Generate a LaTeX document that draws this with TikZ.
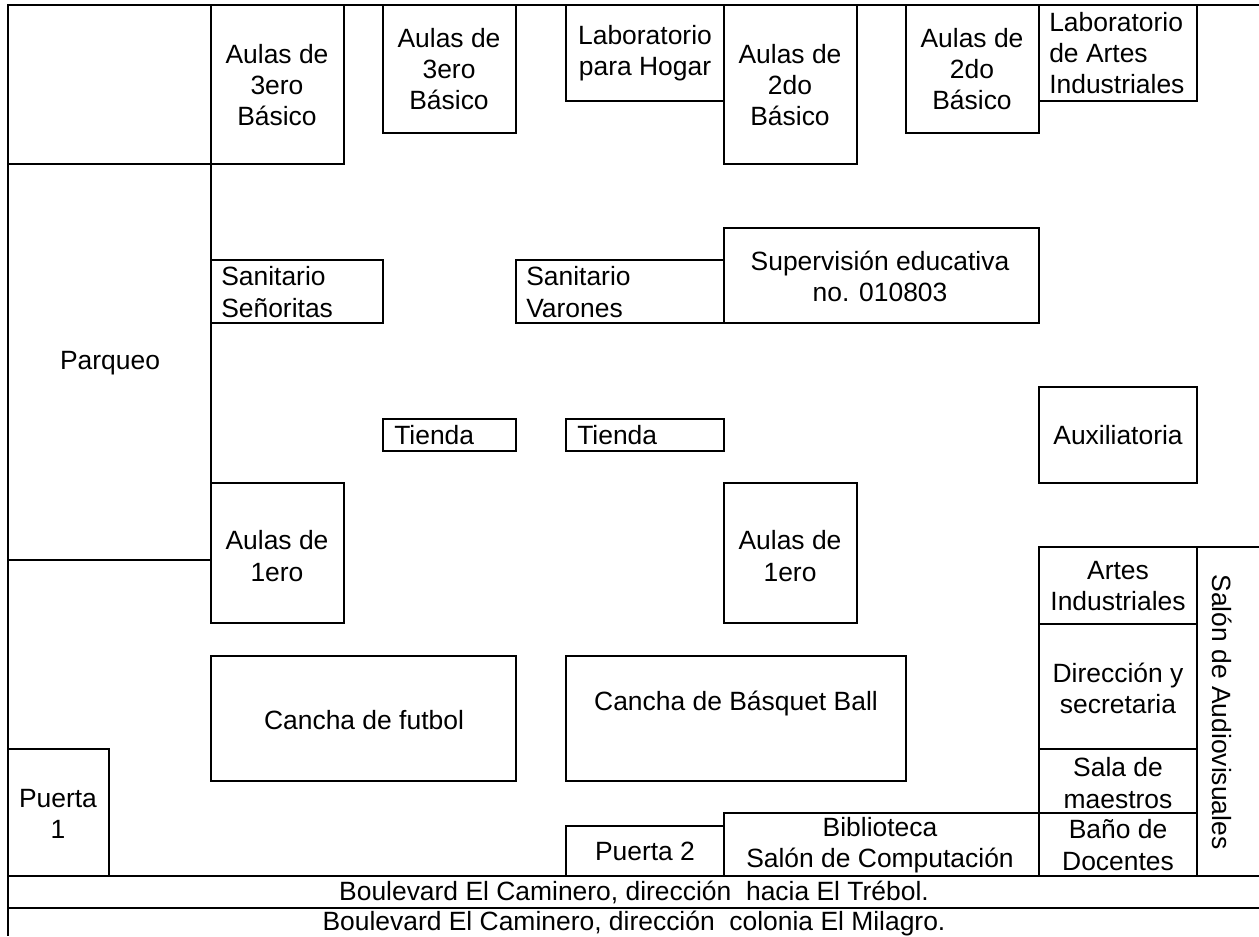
\documentclass[tikz,border=0pt]{standalone}
\usepackage{fontspec}
\setmainfont{Liberation Sans}
\usepackage{tikz}

\begin{document}
\begin{tikzpicture}[
    x=0.75bp, y=-0.75bp,
    % Styles
    wall/.style={draw=black, line width=1.5bp},
    room/.style={font=\fontsize{19.9}{23.4}\selectfont, align=center, inner sep=0pt},
    roomleft/.style={font=\fontsize{19.9}{23.4}\selectfont, align=left, inner sep=0pt, anchor=west}
]
\useasboundingbox (0,0) rectangle (1259,936);

% === OUTER LINES ===
\draw [wall] (1259,5) -- (8,5) -- (8,936);
\draw [wall] (8,876) -- (1259,876);
\draw [wall] (8,908) -- (1259,908);
\draw [wall] (211,164) -- (211,483);
\draw [wall] (8,560) -- (211,560);

% === TOP ROW ===
\draw [wall] (8,5) rectangle (211,164);
\draw [wall] (211,5) rectangle (344,164);
\draw [wall] (383,5) rectangle (516,133);
\draw [wall] (566,5) rectangle (724,101);
\draw [wall] (724,5) rectangle (857,164);
\draw [wall] (906,5) rectangle (1039,133);
\draw [wall] (1039,5) rectangle (1197,101);
\node (aulas3a) [room] at (277,85) {Aulas de\\3ero\\Básico};
\node (aulas3b) [room] at (449,69) {Aulas de\\3ero\\Básico};
\node (labhogar) [room] at (645,53) {Laboratorio\\para Hogar};
\node (aulas2a) [room] at (790,85) {Aulas de\\2do\\Básico};
\node (aulas2b) [room] at (972,69) {Aulas de\\2do\\Básico};
\node (labartes) [roomleft] at (1049,53) {Laboratorio\\de Artes\\Industriales};

% === MIDDLE ===
\draw [wall] (211,260) rectangle (383,323);
\draw [wall] (516,260) rectangle (724,323);
\draw [wall] (724,228) rectangle (1039,323);
\draw [wall] (383,419) rectangle (516,451);
\draw [wall] (566,419) rectangle (724,451);
\draw [wall] (1039,387) rectangle (1197,483);
\draw [wall] (211,483) rectangle (344,623);
\draw [wall] (724,483) rectangle (857,623);
\node (parqueo) [room] at (110,363) {Parqueo};
\node (sanitas) [roomleft] at (221,292) {Sanitario\\Señoritas};
\node (varones) [roomleft] at (526,292) {Sanitario\\Varones};
\node (superv) [room] at (880,276) {Supervisión educativa\\no. 010803};
\node (tienda1) [roomleft] at (394,435) {Tienda};
\node (tienda2) [roomleft] at (577,435) {Tienda};
\node (aux) [room] at (1118,435) {Auxiliatoria};
\node (aulas1a) [room] at (277,556) {Aulas de\\1ero};
\node (aulas1b) [room] at (790,556) {Aulas de\\1ero};

% === CANCHAS AND GATES ===
\draw [wall] (211,656) rectangle (516,781);
\draw [wall] (566,656) rectangle (906,781);
\draw [wall] (8,749) rectangle (109,876);
\draw [wall] (566,826) rectangle (724,876);
\node (futbol) [room] at (364,720) {Cancha de futbol};
\node (basquet) [room] at (736,703) {Cancha de Básquet Ball};
\node (puerta1) [room] at (58,814) {Puerta\\1};
\node (puerta2) [room] at (645,851) {Puerta 2};

% === RIGHT COLUMN ===
\draw [wall] (724,813) rectangle (1039,876);
\draw [wall] (1039,813) rectangle (1197,876);
\draw [wall] (1039,749) rectangle (1197,813);
\draw [wall] (1039,624) rectangle (1197,749);
\draw [wall] (1039,547) rectangle (1197,624);
\draw [wall] (1259,547) -- (1197,547) -- (1197,876);
\node (biblio) [room] at (880,845) {Biblioteca\\Salón de Computación};
\node (bano) [room] at (1118,845) {Baño de\\Docentes};
\node (sala) [room] at (1118,783) {Sala de\\maestros};
\node (direc) [room] at (1118,688) {Dirección y\\secretaria};
\node (artes) [room] at (1118,586) {Artes\\Industriales};
\node (salon) [room, rotate=-90] at (1222,712) {Salón de Audiovisuales};

% === BOULEVARD ===
\node (blvd1) [room] at (634,892) {Boulevard El Caminero, dirección\ \ hacia El Trébol.};
\node (blvd2) [room] at (634,923) {Boulevard El Caminero, dirección\ \ colonia El Milagro.};

\end{tikzpicture}
\end{document}
